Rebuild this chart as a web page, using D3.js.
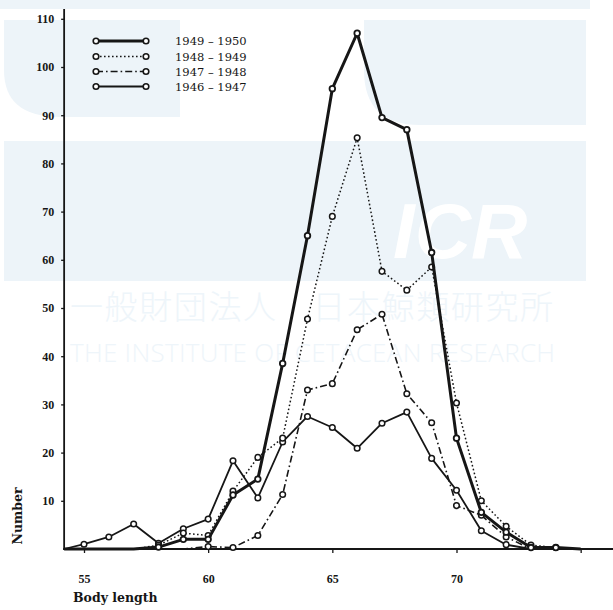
<!DOCTYPE html>
<html><head><meta charset="utf-8">
<script src="https://cdn.jsdelivr.net/npm/d3@7"></script>
<style>body{margin:0;background:#fff}svg{display:block}</style>
</head><body>
<svg id="c" width="613" height="610"></svg>
<script>
// ---- data ----
const lengths = [54.2,55,56,57,58,59,60,61,62,63,64,65,66,67,68,69,70,71,72,73,74,75];
const s1949_1950 = [0,0,0,0,0.4,2,2,11.2,14.5,38.5,65,95.5,107,89.5,87,61.5,23,7.6,3.5,0.3,0.3,0];
const s1948_1949 = [0,0,0,0,0.8,3.3,2.8,12,19,23,47.7,69,85.3,57.6,53.7,58.5,30.3,10,4.7,0.8,0.3,0];
const s1947_1948 = [0,0,0,0,0,0,0.5,0.3,2.8,11.3,33,34.3,45.5,48.7,32.2,26.2,9,7,2.5,0,null,null];
const s1946_1947 = [0,1,2.5,5.2,1.2,4.2,6.2,18.3,10.6,22.2,27.5,25.2,20.9,26.1,28.4,18.8,12.2,3.8,0.9,0,null,null];
const seriesNames = ["1949 – 1950","1948 – 1949","1947 – 1948","1946 – 1947"];
const yTicks = [10,20,30,40,50,60,70,80,90,100,110];
const xTicks = [55,60,65,70,75];
const xTickLabels = ["55","60","65","70",""];

const styles = [
  {w:3, dash:null, mw:1.8},
  {w:1.5, dash:"1.6,2.4", mw:1.5},
  {w:1.6, dash:"7,3,1.6,3", mw:1.5},
  {w:1.8, dash:null, mw:1.5}
];
const seriesVals = [s1949_1950, s1948_1949, s1947_1948, s1946_1947];

const svg = d3.select("#c");
const ink = "#161616";

// ---- faint watermark background ----
const wm = svg.append("g");
const wmc = "#edf4f9";
wm.append("rect").attr("x",0).attr("y",0).attr("width",590).attr("height",9).attr("fill",wmc);
wm.append("path").attr("d","M4,20 H180 V117 H60 Q4,117 4,70 Z").attr("fill",wmc);
wm.append("path").attr("d","M364,20 H586 V125 H420 Q364,125 364,70 Z").attr("fill",wmc);
wm.append("rect").attr("x",4).attr("y",141).attr("width",582).attr("height",140).attr("fill",wmc);
wm.append("text").attr("x",393).attr("y",258).text("ICR")
  .attr("font-family","Liberation Sans").attr("font-weight","bold").attr("font-style","italic")
  .attr("font-size",78).attr("fill","#ffffff");
wm.append("text").attr("x",70).attr("y",319).text("一般財団法人　日本鯨類研究所")
  .attr("font-family","Noto Sans CJK JP").attr("font-weight",300).attr("font-size",33)
  .attr("textLength",483).attr("fill","#eef5fa");
wm.append("text").attr("x",70).attr("y",362).text("THE INSTITUTE OF CETACEAN RESEARCH")
  .attr("font-family","Open Sans").attr("font-weight",300).attr("font-size",26)
  .attr("textLength",485).attr("fill","#eef5fa");

// ---- scales ----
const x = d3.scaleLinear().domain([55,70]).range([84,456.5]);
const y = d3.scaleLinear().domain([0,110]).range([549,18.8]);
const x0 = x(lengths[0]);

// axes
const yAxis = d3.axisLeft(y).tickValues(yTicks).tickSize(3).tickPadding(7).tickSizeOuter(0);
const gy = svg.append("g").attr("transform",`translate(${x0},0)`).call(yAxis);
gy.select(".domain").remove();
gy.selectAll("line").attr("stroke",ink).attr("stroke-width",1.3);
gy.selectAll("text").attr("font-family","Liberation Serif").attr("font-weight","bold")
  .attr("font-size",12).attr("fill",ink);

const xAxis = d3.axisBottom(x).tickValues(xTicks).tickFormat((d,i)=>xTickLabels[i])
  .tickSize(4).tickPadding(21).tickSizeOuter(0);
const gx = svg.append("g").attr("transform",`translate(0,${y(0)})`).call(xAxis);
gx.select(".domain").remove();
gx.selectAll("line").attr("stroke",ink).attr("stroke-width",1.3);
gx.selectAll("text").attr("font-family","Liberation Serif").attr("font-weight","bold")
  .attr("font-size",12).attr("fill",ink);

svg.append("line").attr("x1",x0).attr("x2",x0).attr("y1",9).attr("y2",y(0)+1)
  .attr("stroke",ink).attr("stroke-width",1.8);
svg.append("line").attr("x1",x0-1).attr("x2",613).attr("y1",y(0)).attr("y2",y(0))
  .attr("stroke",ink).attr("stroke-width",1.8);

// axis titles
svg.append("text").attr("x",73).attr("y",602).text("Body length")
  .attr("font-family","DejaVu Serif").attr("font-weight","bold").attr("font-size",12.5).attr("fill",ink);
svg.append("text").attr("transform","translate(22,516) rotate(-90)").attr("text-anchor","middle")
  .text("Number").attr("font-family","DejaVu Serif").attr("font-weight","bold")
  .attr("font-size",12.5).attr("fill",ink);

// ---- lines ----
const line = d3.line().defined(d=>d.v!==null).x(d=>x(d.l)).y(d=>y(d.v));
seriesVals.slice().reverse().forEach((vals,ri)=>{
  const i = seriesVals.length-1-ri;
  const st = styles[i];
  const pts = lengths.map((l,j)=>({l, v: vals[j]}));
  svg.append("path").datum(pts).attr("d",line).attr("fill","none")
    .attr("stroke",ink).attr("stroke-width",st.w).attr("stroke-linejoin","round")
    .attr("stroke-dasharray",st.dash);
  svg.append("g").selectAll("circle").data(pts.filter(d=>d.v!==null && d.v>0 && d.l>lengths[0]))
    .join("circle").attr("cx",d=>x(d.l)).attr("cy",d=>y(d.v)).attr("r",2.8)
    .attr("fill","#fff").attr("stroke",ink).attr("stroke-width",st.mw);
});

// ---- legend ----
const lg = svg.append("g");
const rowsY = [41,56.5,71.5,86.5];
seriesNames.forEach((n,i)=>{
  const st = styles[i];
  lg.append("line").attr("x1",96).attr("x2",146).attr("y1",rowsY[i]).attr("y2",rowsY[i])
    .attr("stroke",ink).attr("stroke-width",st.w).attr("stroke-dasharray",st.dash);
  [96,146].forEach(cx=>lg.append("circle").attr("cx",cx).attr("cy",rowsY[i]).attr("r",2.8)
    .attr("fill","#fff").attr("stroke",ink).attr("stroke-width",1.6));
  lg.append("text").attr("x",175).attr("y",rowsY[i]+4).text(n)
    .attr("font-family","DejaVu Serif").attr("font-size",11.5).attr("fill",ink);
});
</script>
</body></html>
